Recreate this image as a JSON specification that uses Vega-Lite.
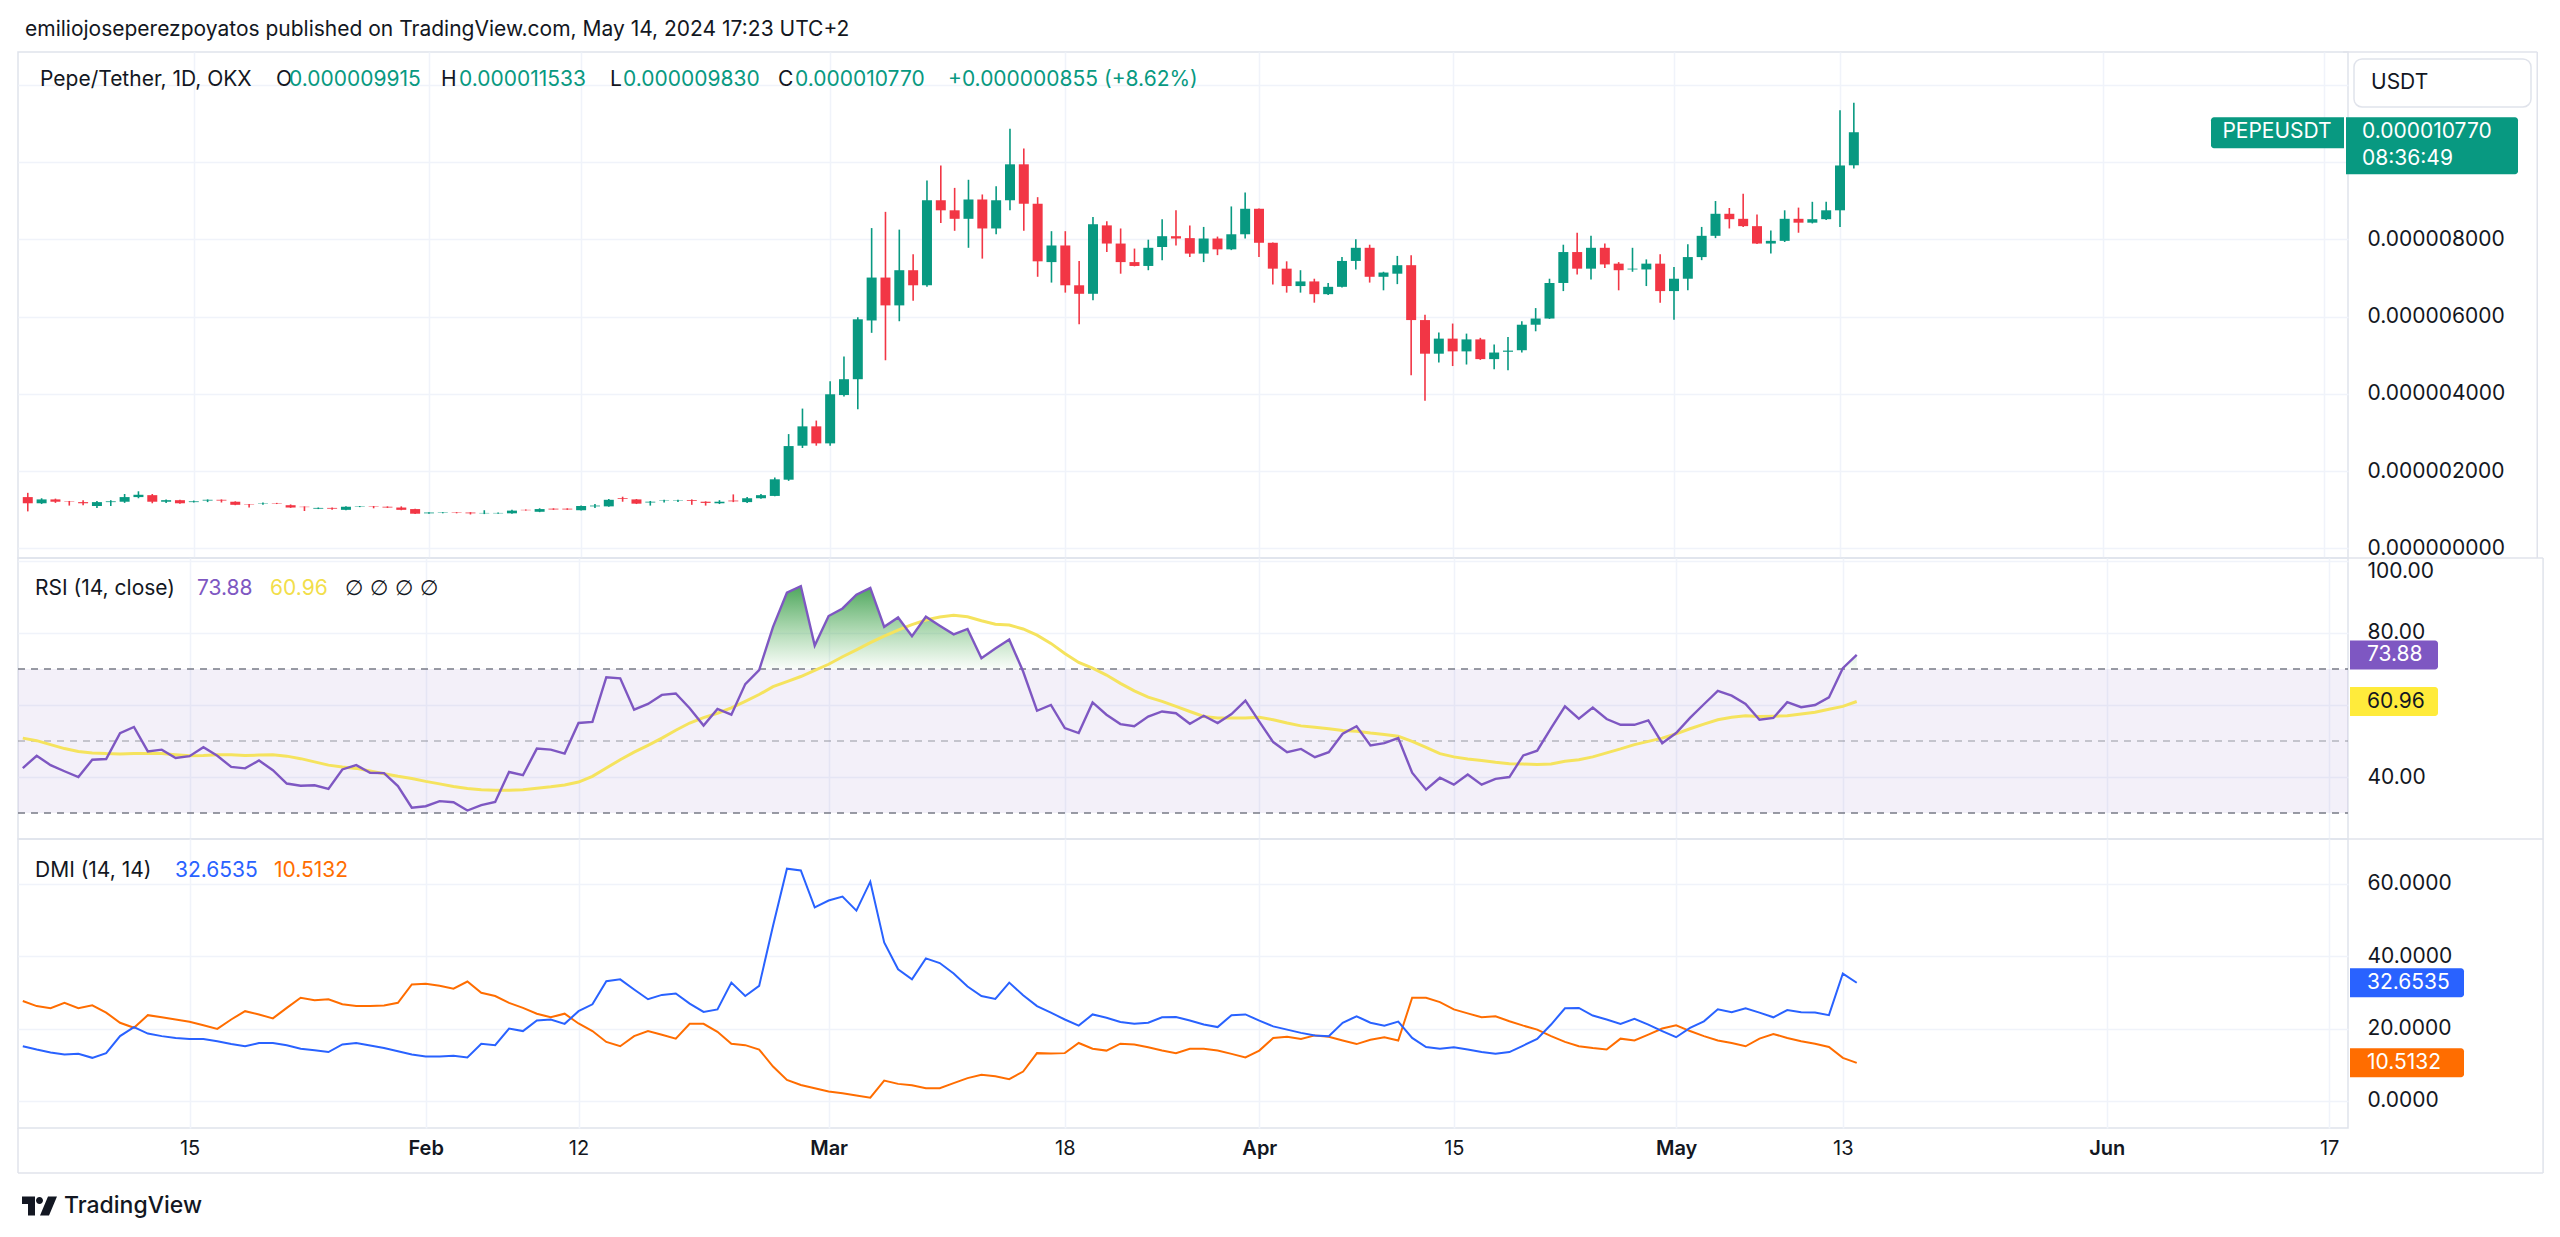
{
  "$schema": "https://vega.github.io/schema/vega-lite/v6.json",
  "padding": {"left": 16, "top": 18, "right": 18, "bottom": 20},
  "background": "#ffffff",
  "datasets": {
    "bars": [
      {"d":"2024-01-03","o":1.33e-6,"h":1.44e-6,"l":0.96e-6,"c":1.17e-6,"rsi":42.5,"ma":50.8,"pdi":15.1,"mdi":27.6},
      {"d":"2024-01-04","o":1.17e-6,"h":1.30e-6,"l":1.15e-6,"c":1.27e-6,"rsi":45.9,"ma":50.1,"pdi":14.2,"mdi":26.2},
      {"d":"2024-01-05","o":1.27e-6,"h":1.29e-6,"l":1.18e-6,"c":1.21e-6,"rsi":43.3,"ma":49.0,"pdi":13.4,"mdi":25.6},
      {"d":"2024-01-06","o":1.22e-6,"h":1.23e-6,"l":1.11e-6,"c":1.21e-6,"rsi":41.6,"ma":47.9,"pdi":12.8,"mdi":27.1},
      {"d":"2024-01-07","o":1.20e-6,"h":1.25e-6,"l":1.12e-6,"c":1.17e-6,"rsi":40.0,"ma":47.1,"pdi":13.0,"mdi":25.6},
      {"d":"2024-01-08","o":1.10e-6,"h":1.23e-6,"l":1.05e-6,"c":1.20e-6,"rsi":44.8,"ma":46.7,"pdi":11.9,"mdi":26.4},
      {"d":"2024-01-09","o":1.20e-6,"h":1.25e-6,"l":1.10e-6,"c":1.22e-6,"rsi":45.0,"ma":46.5,"pdi":13.2,"mdi":24.4},
      {"d":"2024-01-10","o":1.21e-6,"h":1.41e-6,"l":1.18e-6,"c":1.33e-6,"rsi":52.2,"ma":46.4,"pdi":17.9,"mdi":21.6},
      {"d":"2024-01-11","o":1.33e-6,"h":1.48e-6,"l":1.30e-6,"c":1.39e-6,"rsi":53.9,"ma":46.5,"pdi":20.4,"mdi":20.2},
      {"d":"2024-01-12","o":1.38e-6,"h":1.41e-6,"l":1.17e-6,"c":1.21e-6,"rsi":47.1,"ma":46.5,"pdi":18.6,"mdi":23.7},
      {"d":"2024-01-13","o":1.21e-6,"h":1.27e-6,"l":1.18e-6,"c":1.25e-6,"rsi":47.6,"ma":46.5,"pdi":17.9,"mdi":23.1},
      {"d":"2024-01-14","o":1.25e-6,"h":1.26e-6,"l":1.16e-6,"c":1.17e-6,"rsi":45.3,"ma":46.2,"pdi":17.4,"mdi":22.5},
      {"d":"2024-01-15","o":1.20e-6,"h":1.24e-6,"l":1.19e-6,"c":1.22e-6,"rsi":45.8,"ma":45.9,"pdi":17.1,"mdi":21.9},
      {"d":"2024-01-16","o":1.24e-6,"h":1.27e-6,"l":1.20e-6,"c":1.26e-6,"rsi":48.3,"ma":46.0,"pdi":17.1,"mdi":20.9},
      {"d":"2024-01-17","o":1.26e-6,"h":1.27e-6,"l":1.19e-6,"c":1.24e-6,"rsi":45.9,"ma":46.2,"pdi":16.5,"mdi":19.9},
      {"d":"2024-01-18","o":1.21e-6,"h":1.22e-6,"l":1.12e-6,"c":1.13e-6,"rsi":42.8,"ma":46.2,"pdi":15.7,"mdi":22.5},
      {"d":"2024-01-19","o":1.14e-6,"h":1.15e-6,"l":1.06e-6,"c":1.13e-6,"rsi":42.4,"ma":46.0,"pdi":15.1,"mdi":24.8},
      {"d":"2024-01-20","o":1.16e-6,"h":1.19e-6,"l":1.13e-6,"c":1.17e-6,"rsi":44.6,"ma":46.1,"pdi":16.0,"mdi":23.9},
      {"d":"2024-01-21","o":1.17e-6,"h":1.18e-6,"l":1.15e-6,"c":1.16e-6,"rsi":41.9,"ma":46.2,"pdi":16.0,"mdi":22.8},
      {"d":"2024-01-22","o":1.12e-6,"h":1.14e-6,"l":1.05e-6,"c":1.06e-6,"rsi":38.2,"ma":45.8,"pdi":15.4,"mdi":25.7},
      {"d":"2024-01-23","o":1.08e-6,"h":1.09e-6,"l":0.97e-6,"c":1.07e-6,"rsi":37.6,"ma":45.1,"pdi":14.4,"mdi":28.5},
      {"d":"2024-01-24","o":1.03e-6,"h":1.06e-6,"l":1.02e-6,"c":1.05e-6,"rsi":37.7,"ma":44.2,"pdi":14.0,"mdi":27.8},
      {"d":"2024-01-25","o":1.05e-6,"h":1.06e-6,"l":1.00e-6,"c":1.03e-6,"rsi":36.7,"ma":43.3,"pdi":13.5,"mdi":28.1},
      {"d":"2024-01-26","o":1.00e-6,"h":1.09e-6,"l":0.99e-6,"c":1.08e-6,"rsi":42.1,"ma":42.8,"pdi":15.6,"mdi":26.7},
      {"d":"2024-01-27","o":1.08e-6,"h":1.10e-6,"l":1.07e-6,"c":1.09e-6,"rsi":43.3,"ma":42.4,"pdi":16.0,"mdi":26.2},
      {"d":"2024-01-28","o":1.09e-6,"h":1.10e-6,"l":1.04e-6,"c":1.08e-6,"rsi":41.2,"ma":41.7,"pdi":15.3,"mdi":26.2},
      {"d":"2024-01-29","o":1.08e-6,"h":1.09e-6,"l":1.05e-6,"c":1.06e-6,"rsi":41.1,"ma":40.9,"pdi":14.6,"mdi":26.4},
      {"d":"2024-01-30","o":1.06e-6,"h":1.09e-6,"l":0.99e-6,"c":1.00e-6,"rsi":37.5,"ma":40.2,"pdi":13.7,"mdi":27.1},
      {"d":"2024-01-31","o":1.02e-6,"h":1.03e-6,"l":0.89e-6,"c":0.90e-6,"rsi":31.5,"ma":39.6,"pdi":12.8,"mdi":32.2},
      {"d":"2024-02-01","o":0.91e-6,"h":0.94e-6,"l":0.90e-6,"c":0.93e-6,"rsi":31.9,"ma":38.8,"pdi":12.3,"mdi":32.4},
      {"d":"2024-02-02","o":0.92e-6,"h":0.94e-6,"l":0.91e-6,"c":0.93e-6,"rsi":33.3,"ma":38.1,"pdi":12.3,"mdi":31.8},
      {"d":"2024-02-03","o":0.93e-6,"h":0.94e-6,"l":0.91e-6,"c":0.92e-6,"rsi":33.0,"ma":37.4,"pdi":12.5,"mdi":31.0},
      {"d":"2024-02-04","o":0.93e-6,"h":0.94e-6,"l":0.88e-6,"c":0.91e-6,"rsi":30.7,"ma":36.8,"pdi":12.0,"mdi":33.0},
      {"d":"2024-02-05","o":0.91e-6,"h":0.99e-6,"l":0.89e-6,"c":0.92e-6,"rsi":32.2,"ma":36.5,"pdi":15.8,"mdi":29.9},
      {"d":"2024-02-06","o":0.91e-6,"h":0.93e-6,"l":0.90e-6,"c":0.92e-6,"rsi":33.1,"ma":36.3,"pdi":15.4,"mdi":29.0},
      {"d":"2024-02-07","o":0.91e-6,"h":1.00e-6,"l":0.90e-6,"c":0.98e-6,"rsi":41.4,"ma":36.3,"pdi":20.0,"mdi":27.1},
      {"d":"2024-02-08","o":1.00e-6,"h":1.01e-6,"l":0.98e-6,"c":0.99e-6,"rsi":40.5,"ma":36.5,"pdi":19.3,"mdi":25.7},
      {"d":"2024-02-09","o":0.95e-6,"h":1.04e-6,"l":0.94e-6,"c":1.02e-6,"rsi":47.9,"ma":36.9,"pdi":22.2,"mdi":24.1},
      {"d":"2024-02-10","o":1.03e-6,"h":1.04e-6,"l":1.00e-6,"c":1.01e-6,"rsi":47.6,"ma":37.3,"pdi":22.5,"mdi":23.1},
      {"d":"2024-02-11","o":1.03e-6,"h":1.04e-6,"l":1.00e-6,"c":1.01e-6,"rsi":46.5,"ma":37.8,"pdi":21.3,"mdi":24.1},
      {"d":"2024-02-12","o":0.99e-6,"h":1.11e-6,"l":0.98e-6,"c":1.10e-6,"rsi":55.0,"ma":38.6,"pdi":24.8,"mdi":21.4},
      {"d":"2024-02-13","o":1.09e-6,"h":1.15e-6,"l":1.05e-6,"c":1.11e-6,"rsi":55.3,"ma":40.2,"pdi":26.7,"mdi":19.3},
      {"d":"2024-02-14","o":1.09e-6,"h":1.28e-6,"l":1.08e-6,"c":1.26e-6,"rsi":67.7,"ma":42.5,"pdi":33.1,"mdi":16.3},
      {"d":"2024-02-15","o":1.30e-6,"h":1.34e-6,"l":1.21e-6,"c":1.28e-6,"rsi":67.4,"ma":44.8,"pdi":33.6,"mdi":15.1},
      {"d":"2024-02-16","o":1.27e-6,"h":1.28e-6,"l":1.15e-6,"c":1.16e-6,"rsi":58.7,"ma":46.9,"pdi":30.8,"mdi":17.9},
      {"d":"2024-02-17","o":1.19e-6,"h":1.23e-6,"l":1.11e-6,"c":1.21e-6,"rsi":60.3,"ma":48.8,"pdi":28.1,"mdi":19.3},
      {"d":"2024-02-18","o":1.24e-6,"h":1.26e-6,"l":1.19e-6,"c":1.25e-6,"rsi":62.8,"ma":50.8,"pdi":29.3,"mdi":18.3},
      {"d":"2024-02-19","o":1.24e-6,"h":1.26e-6,"l":1.20e-6,"c":1.25e-6,"rsi":63.2,"ma":53.0,"pdi":29.7,"mdi":17.2},
      {"d":"2024-02-20","o":1.25e-6,"h":1.27e-6,"l":1.13e-6,"c":1.23e-6,"rsi":59.1,"ma":55.0,"pdi":26.9,"mdi":21.3},
      {"d":"2024-02-21","o":1.21e-6,"h":1.22e-6,"l":1.11e-6,"c":1.18e-6,"rsi":54.3,"ma":56.5,"pdi":24.6,"mdi":21.3},
      {"d":"2024-02-22","o":1.17e-6,"h":1.25e-6,"l":1.15e-6,"c":1.21e-6,"rsi":58.9,"ma":57.7,"pdi":25.3,"mdi":19.1},
      {"d":"2024-02-23","o":1.24e-6,"h":1.40e-6,"l":1.20e-6,"c":1.22e-6,"rsi":57.3,"ma":59.2,"pdi":32.7,"mdi":15.8},
      {"d":"2024-02-24","o":1.20e-6,"h":1.33e-6,"l":1.18e-6,"c":1.30e-6,"rsi":65.8,"ma":61.0,"pdi":29.0,"mdi":15.4},
      {"d":"2024-02-25","o":1.30e-6,"h":1.41e-6,"l":1.29e-6,"c":1.38e-6,"rsi":69.7,"ma":62.9,"pdi":31.8,"mdi":14.2},
      {"d":"2024-02-26","o":1.36e-6,"h":1.84e-6,"l":1.35e-6,"c":1.79e-6,"rsi":81.7,"ma":65.1,"pdi":48.4,"mdi":9.5},
      {"d":"2024-02-27","o":1.78e-6,"h":2.96e-6,"l":1.75e-6,"c":2.65e-6,"rsi":91.2,"ma":66.5,"pdi":64.2,"mdi":5.8},
      {"d":"2024-02-28","o":2.66e-6,"h":3.62e-6,"l":2.60e-6,"c":3.16e-6,"rsi":93.0,"ma":67.9,"pdi":63.7,"mdi":4.4},
      {"d":"2024-02-29","o":3.16e-6,"h":3.31e-6,"l":2.66e-6,"c":2.72e-6,"rsi":76.5,"ma":69.6,"pdi":53.5,"mdi":3.5},
      {"d":"2024-03-01","o":2.72e-6,"h":4.33e-6,"l":2.66e-6,"c":3.99e-6,"rsi":84.7,"ma":71.3,"pdi":55.4,"mdi":2.6},
      {"d":"2024-03-02","o":3.97e-6,"h":4.97e-6,"l":3.93e-6,"c":4.38e-6,"rsi":86.8,"ma":73.4,"pdi":56.5,"mdi":2.1},
      {"d":"2024-03-03","o":4.38e-6,"h":5.98e-6,"l":3.60e-6,"c":5.93e-6,"rsi":90.6,"ma":75.3,"pdi":52.6,"mdi":1.5},
      {"d":"2024-03-04","o":5.90e-6,"h":8.29e-6,"l":5.58e-6,"c":7.01e-6,"rsi":92.5,"ma":77.3,"pdi":60.6,"mdi":0.9},
      {"d":"2024-03-05","o":7.01e-6,"h":8.71e-6,"l":4.87e-6,"c":6.29e-6,"rsi":81.7,"ma":79.1,"pdi":43.8,"mdi":5.6},
      {"d":"2024-03-06","o":6.29e-6,"h":8.25e-6,"l":5.88e-6,"c":7.20e-6,"rsi":84.3,"ma":80.8,"pdi":36.4,"mdi":4.7},
      {"d":"2024-03-07","o":7.20e-6,"h":7.61e-6,"l":6.41e-6,"c":6.81e-6,"rsi":79.1,"ma":82.3,"pdi":33.6,"mdi":4.3},
      {"d":"2024-03-08","o":6.81e-6,"h":9.52e-6,"l":6.77e-6,"c":9.01e-6,"rsi":84.5,"ma":83.6,"pdi":39.4,"mdi":3.5},
      {"d":"2024-03-09","o":9.01e-6,"h":9.91e-6,"l":8.42e-6,"c":8.75e-6,"rsi":82.0,"ma":84.4,"pdi":38.1,"mdi":3.5},
      {"d":"2024-03-10","o":8.75e-6,"h":9.33e-6,"l":8.22e-6,"c":8.53e-6,"rsi":79.6,"ma":84.9,"pdi":35.2,"mdi":4.9},
      {"d":"2024-03-11","o":8.53e-6,"h":9.54e-6,"l":7.78e-6,"c":9.03e-6,"rsi":81.1,"ma":84.5,"pdi":31.6,"mdi":6.3},
      {"d":"2024-03-12","o":9.03e-6,"h":9.16e-6,"l":7.50e-6,"c":8.28e-6,"rsi":73.0,"ma":83.4,"pdi":29.0,"mdi":7.2},
      {"d":"2024-03-13","o":8.28e-6,"h":9.37e-6,"l":8.13e-6,"c":9.01e-6,"rsi":75.7,"ma":82.4,"pdi":28.2,"mdi":6.8},
      {"d":"2024-03-14","o":9.01e-6,"h":10.86e-6,"l":8.75e-6,"c":9.94e-6,"rsi":78.2,"ma":82.2,"pdi":32.7,"mdi":6.0},
      {"d":"2024-03-15","o":9.94e-6,"h":10.35e-6,"l":8.22e-6,"c":8.92e-6,"rsi":69.3,"ma":81.1,"pdi":29.2,"mdi":8.1},
      {"d":"2024-03-16","o":8.92e-6,"h":9.09e-6,"l":7.03e-6,"c":7.43e-6,"rsi":58.4,"ma":79.4,"pdi":26.2,"mdi":13.2},
      {"d":"2024-03-17","o":7.41e-6,"h":8.21e-6,"l":6.88e-6,"c":7.84e-6,"rsi":60.0,"ma":77.1,"pdi":24.4,"mdi":13.1},
      {"d":"2024-03-18","o":7.84e-6,"h":8.21e-6,"l":6.62e-6,"c":6.81e-6,"rsi":53.6,"ma":74.3,"pdi":22.5,"mdi":13.2},
      {"d":"2024-03-19","o":6.81e-6,"h":7.44e-6,"l":5.80e-6,"c":6.59e-6,"rsi":52.2,"ma":71.8,"pdi":20.8,"mdi":16.0},
      {"d":"2024-03-20","o":6.59e-6,"h":8.58e-6,"l":6.42e-6,"c":8.39e-6,"rsi":60.7,"ma":70.2,"pdi":23.9,"mdi":14.4},
      {"d":"2024-03-21","o":8.36e-6,"h":8.47e-6,"l":7.67e-6,"c":7.89e-6,"rsi":57.3,"ma":68.3,"pdi":23.0,"mdi":13.9},
      {"d":"2024-03-22","o":7.89e-6,"h":8.28e-6,"l":7.11e-6,"c":7.41e-6,"rsi":54.7,"ma":66.0,"pdi":21.8,"mdi":15.8},
      {"d":"2024-03-23","o":7.41e-6,"h":7.76e-6,"l":7.30e-6,"c":7.31e-6,"rsi":54.1,"ma":63.9,"pdi":21.3,"mdi":15.6},
      {"d":"2024-03-24","o":7.31e-6,"h":7.99e-6,"l":7.20e-6,"c":7.78e-6,"rsi":56.8,"ma":62.2,"pdi":21.6,"mdi":14.8},
      {"d":"2024-03-25","o":7.80e-6,"h":8.52e-6,"l":7.46e-6,"c":8.08e-6,"rsi":58.2,"ma":61.0,"pdi":23.1,"mdi":13.9},
      {"d":"2024-03-26","o":8.08e-6,"h":8.75e-6,"l":7.84e-6,"c":8.02e-6,"rsi":57.7,"ma":59.6,"pdi":23.2,"mdi":13.2},
      {"d":"2024-03-27","o":8.03e-6,"h":8.36e-6,"l":7.54e-6,"c":7.63e-6,"rsi":54.8,"ma":58.2,"pdi":22.2,"mdi":14.4},
      {"d":"2024-03-28","o":7.63e-6,"h":8.32e-6,"l":7.41e-6,"c":8.02e-6,"rsi":57.0,"ma":56.8,"pdi":21.1,"mdi":14.4},
      {"d":"2024-03-29","o":8.02e-6,"h":8.07e-6,"l":7.59e-6,"c":7.74e-6,"rsi":55.0,"ma":56.4,"pdi":20.4,"mdi":13.9},
      {"d":"2024-03-30","o":7.74e-6,"h":8.85e-6,"l":7.72e-6,"c":8.13e-6,"rsi":57.5,"ma":56.4,"pdi":23.7,"mdi":13.0},
      {"d":"2024-03-31","o":8.13e-6,"h":9.21e-6,"l":8.02e-6,"c":8.79e-6,"rsi":61.2,"ma":56.4,"pdi":23.9,"mdi":12.0},
      {"d":"2024-04-01","o":8.79e-6,"h":8.80e-6,"l":7.54e-6,"c":7.91e-6,"rsi":55.4,"ma":56.6,"pdi":22.2,"mdi":13.9},
      {"d":"2024-04-02","o":7.91e-6,"h":7.92e-6,"l":6.83e-6,"c":7.24e-6,"rsi":49.7,"ma":55.9,"pdi":20.6,"mdi":17.4},
      {"d":"2024-04-03","o":7.24e-6,"h":7.43e-6,"l":6.62e-6,"c":6.79e-6,"rsi":46.9,"ma":55.0,"pdi":19.7,"mdi":17.7},
      {"d":"2024-04-04","o":6.79e-6,"h":7.20e-6,"l":6.62e-6,"c":6.91e-6,"rsi":47.8,"ma":54.2,"pdi":18.8,"mdi":17.1},
      {"d":"2024-04-05","o":6.91e-6,"h":6.98e-6,"l":6.36e-6,"c":6.58e-6,"rsi":45.5,"ma":53.8,"pdi":18.1,"mdi":18.1},
      {"d":"2024-04-06","o":6.58e-6,"h":6.87e-6,"l":6.56e-6,"c":6.77e-6,"rsi":46.9,"ma":53.4,"pdi":17.9,"mdi":17.7},
      {"d":"2024-04-07","o":6.77e-6,"h":7.54e-6,"l":6.75e-6,"c":7.44e-6,"rsi":52.0,"ma":52.9,"pdi":21.6,"mdi":16.7},
      {"d":"2024-04-08","o":7.44e-6,"h":8.00e-6,"l":7.22e-6,"c":7.78e-6,"rsi":54.1,"ma":52.7,"pdi":23.4,"mdi":15.7},
      {"d":"2024-04-09","o":7.78e-6,"h":7.86e-6,"l":6.88e-6,"c":7.03e-6,"rsi":48.8,"ma":52.2,"pdi":21.6,"mdi":16.9},
      {"d":"2024-04-10","o":7.03e-6,"h":7.16e-6,"l":6.68e-6,"c":7.14e-6,"rsi":49.4,"ma":51.8,"pdi":20.8,"mdi":17.6},
      {"d":"2024-04-11","o":7.11e-6,"h":7.57e-6,"l":6.84e-6,"c":7.33e-6,"rsi":50.8,"ma":51.3,"pdi":21.9,"mdi":16.7},
      {"d":"2024-04-12","o":7.33e-6,"h":7.59e-6,"l":4.48e-6,"c":5.91e-6,"rsi":41.2,"ma":49.9,"pdi":17.4,"mdi":28.5},
      {"d":"2024-04-13","o":5.91e-6,"h":6.05e-6,"l":3.82e-6,"c":5.04e-6,"rsi":36.5,"ma":48.2,"pdi":14.9,"mdi":28.5},
      {"d":"2024-04-14","o":5.04e-6,"h":5.59e-6,"l":4.81e-6,"c":5.43e-6,"rsi":39.8,"ma":46.5,"pdi":14.4,"mdi":27.3},
      {"d":"2024-04-15","o":5.43e-6,"h":5.82e-6,"l":4.72e-6,"c":5.10e-6,"rsi":37.9,"ma":45.6,"pdi":14.8,"mdi":25.3},
      {"d":"2024-04-16","o":5.10e-6,"h":5.56e-6,"l":4.76e-6,"c":5.41e-6,"rsi":40.7,"ma":45.0,"pdi":14.2,"mdi":24.2},
      {"d":"2024-04-17","o":5.41e-6,"h":5.45e-6,"l":4.88e-6,"c":4.90e-6,"rsi":37.9,"ma":44.6,"pdi":13.5,"mdi":23.1},
      {"d":"2024-04-18","o":4.90e-6,"h":5.28e-6,"l":4.64e-6,"c":5.07e-6,"rsi":39.5,"ma":44.1,"pdi":13.0,"mdi":23.4},
      {"d":"2024-04-19","o":5.09e-6,"h":5.47e-6,"l":4.61e-6,"c":5.12e-6,"rsi":40.0,"ma":43.7,"pdi":13.5,"mdi":22.0},
      {"d":"2024-04-20","o":5.13e-6,"h":5.88e-6,"l":5.07e-6,"c":5.79e-6,"rsi":46.0,"ma":43.6,"pdi":15.3,"mdi":20.8},
      {"d":"2024-04-21","o":5.79e-6,"h":6.22e-6,"l":5.62e-6,"c":5.95e-6,"rsi":47.3,"ma":43.5,"pdi":17.1,"mdi":19.7},
      {"d":"2024-04-22","o":5.95e-6,"h":6.98e-6,"l":5.94e-6,"c":6.87e-6,"rsi":53.6,"ma":43.6,"pdi":21.1,"mdi":17.9},
      {"d":"2024-04-23","o":6.87e-6,"h":7.86e-6,"l":6.66e-6,"c":7.67e-6,"rsi":59.6,"ma":44.4,"pdi":25.6,"mdi":16.3},
      {"d":"2024-04-24","o":7.67e-6,"h":8.17e-6,"l":7.09e-6,"c":7.24e-6,"rsi":56.2,"ma":44.8,"pdi":25.7,"mdi":15.1},
      {"d":"2024-04-25","o":7.24e-6,"h":8.09e-6,"l":6.96e-6,"c":7.78e-6,"rsi":59.3,"ma":45.6,"pdi":23.6,"mdi":14.6},
      {"d":"2024-04-26","o":7.78e-6,"h":7.89e-6,"l":7.26e-6,"c":7.35e-6,"rsi":56.1,"ma":46.7,"pdi":22.5,"mdi":14.2},
      {"d":"2024-04-27","o":7.37e-6,"h":7.41e-6,"l":6.68e-6,"c":7.20e-6,"rsi":54.5,"ma":47.8,"pdi":21.3,"mdi":17.2},
      {"d":"2024-04-28","o":7.22e-6,"h":7.78e-6,"l":7.16e-6,"c":7.24e-6,"rsi":54.5,"ma":49.0,"pdi":22.7,"mdi":16.7},
      {"d":"2024-04-29","o":7.22e-6,"h":7.48e-6,"l":6.79e-6,"c":7.37e-6,"rsi":55.7,"ma":49.9,"pdi":21.1,"mdi":18.3},
      {"d":"2024-04-30","o":7.37e-6,"h":7.61e-6,"l":6.36e-6,"c":6.66e-6,"rsi":49.4,"ma":50.8,"pdi":19.3,"mdi":20.0},
      {"d":"2024-05-01","o":6.66e-6,"h":7.28e-6,"l":5.92e-6,"c":6.98e-6,"rsi":52.2,"ma":52.0,"pdi":17.6,"mdi":20.9},
      {"d":"2024-05-02","o":6.98e-6,"h":7.87e-6,"l":6.68e-6,"c":7.54e-6,"rsi":56.4,"ma":53.4,"pdi":20.2,"mdi":19.3},
      {"d":"2024-05-03","o":7.54e-6,"h":8.32e-6,"l":7.46e-6,"c":8.09e-6,"rsi":60.2,"ma":54.7,"pdi":22.0,"mdi":17.9},
      {"d":"2024-05-04","o":8.09e-6,"h":8.99e-6,"l":8.03e-6,"c":8.66e-6,"rsi":63.9,"ma":55.9,"pdi":25.3,"mdi":16.7},
      {"d":"2024-05-05","o":8.66e-6,"h":8.81e-6,"l":8.28e-6,"c":8.52e-6,"rsi":62.6,"ma":56.6,"pdi":24.5,"mdi":16.0},
      {"d":"2024-05-06","o":8.53e-6,"h":9.18e-6,"l":8.32e-6,"c":8.34e-6,"rsi":60.3,"ma":57.0,"pdi":25.6,"mdi":15.1},
      {"d":"2024-05-07","o":8.34e-6,"h":8.64e-6,"l":7.88e-6,"c":7.89e-6,"rsi":55.9,"ma":56.8,"pdi":24.4,"mdi":17.2},
      {"d":"2024-05-08","o":7.89e-6,"h":8.23e-6,"l":7.63e-6,"c":7.96e-6,"rsi":56.4,"ma":56.9,"pdi":23.1,"mdi":18.5},
      {"d":"2024-05-09","o":7.96e-6,"h":8.75e-6,"l":7.93e-6,"c":8.53e-6,"rsi":60.8,"ma":57.0,"pdi":25.1,"mdi":17.4},
      {"d":"2024-05-10","o":8.53e-6,"h":8.82e-6,"l":8.17e-6,"c":8.43e-6,"rsi":59.4,"ma":57.5,"pdi":24.5,"mdi":16.5},
      {"d":"2024-05-11","o":8.43e-6,"h":8.97e-6,"l":8.41e-6,"c":8.52e-6,"rsi":60.0,"ma":58.0,"pdi":24.4,"mdi":15.8},
      {"d":"2024-05-12","o":8.52e-6,"h":8.97e-6,"l":8.50e-6,"c":8.75e-6,"rsi":62.1,"ma":58.8,"pdi":23.7,"mdi":14.9},
      {"d":"2024-05-13","o":8.75e-6,"h":11.34e-6,"l":8.32e-6,"c":9.91e-6,"rsi":70.2,"ma":59.6,"pdi":35.2,"mdi":11.9},
      {"d":"2024-05-14","o":9.915e-6,"h":11.533e-6,"l":9.83e-6,"c":10.77e-6,"rsi":73.88,"ma":60.96,"pdi":32.6535,"mdi":10.5132}
    ]
  },
  "vconcat": [
    {
      "width": 2330,
      "height": 506,
      "data": {"name": "bars"},
      "layer": [
        {
          "mark": {"type": "rule", "strokeWidth": 1.6},
          "encoding": {
            "x": {
              "field": "d", "type": "temporal", "title": null,
              "scale": {"type": "utc", "nice": false, "domain": [
                {"year": 2024, "month": 1, "date": 2, "hours": 15, "minutes": 43, "utc": true},
                {"year": 2024, "month": 6, "date": 18, "hours": 8, "minutes": 38, "utc": true}]},
              "axis": {"title": null, "labels": false, "grid": true, "values": [
                {"year": 2024, "month": 1, "date": 15, "utc": true}, {"year": 2024, "month": 2, "date": 1, "utc": true},
                {"year": 2024, "month": 2, "date": 12, "utc": true}, {"year": 2024, "month": 3, "date": 1, "utc": true},
                {"year": 2024, "month": 3, "date": 18, "utc": true}, {"year": 2024, "month": 4, "date": 1, "utc": true},
                {"year": 2024, "month": 4, "date": 15, "utc": true}, {"year": 2024, "month": 5, "date": 1, "utc": true},
                {"year": 2024, "month": 5, "date": 13, "utc": true}, {"year": 2024, "month": 6, "date": 1, "utc": true},
                {"year": 2024, "month": 6, "date": 17, "utc": true}]}
            },
            "y": {"field": "l", "type": "quantitative", "title": null,
              "scale": {"domain": [-0.000000246, 0.000012846], "nice": false, "zero": false},
              "axis": {"orient": "right", "title": null, "grid": true, "labelPadding": 19,
                "labelExpr": "datum.value > 0.0000095 ? '' : format(datum.value, '.9f')",
                "values": [0, 0.000002, 0.000004, 0.000006, 0.000008, 0.00001, 0.000012]}},
            "y2": {"field": "h"},
            "color": {"condition": {"test": "datum.c >= datum.o", "value": "#089981"}, "value": "#F23645"}
          }
        },
        {
          "mark": {"type": "bar", "width": 10},
          "encoding": {
            "x": {"field": "d", "type": "temporal"},
            "y": {"field": "o", "type": "quantitative", "title": null},
            "y2": {"field": "c"},
            "color": {"condition": {"test": "datum.c >= datum.o", "value": "#089981"}, "value": "#F23645"}
          }
        },
        {
          "data": {"values": [{}]},
          "mark": {"type": "text", "align": "left", "baseline": "middle", "dx": 2, "fontSize": 21, "color": "#131722"},
          "encoding": {"x": {"datum": {"year": 2024, "month": 1, "date": 2, "hours": 15, "minutes": 43, "utc": true}, "type": "temporal"}, "y": {"datum": 0.000013415, "type": "quantitative"}, "text": {"value": "emiliojoseperezpoyatos published on TradingView.com, May 14, 2024 17:23 UTC+2"}}
        },
        {
          "data": {"values": [{}]},
          "mark": {"type": "text", "align": "left", "baseline": "middle", "dx": 17, "fontSize": 21, "color": "#131722"},
          "encoding": {"x": {"datum": {"year": 2024, "month": 1, "date": 2, "hours": 15, "minutes": 43, "utc": true}, "type": "temporal"}, "y": {"datum": 0.00001212, "type": "quantitative"}, "text": {"value": "Pepe/Tether, 1D, OKX"}}
        },
        {
          "data": {"values": [{}]},
          "mark": {"type": "text", "align": "left", "baseline": "middle", "dx": 253, "fontSize": 21, "color": "#131722"},
          "encoding": {"x": {"datum": {"year": 2024, "month": 1, "date": 2, "hours": 15, "minutes": 43, "utc": true}, "type": "temporal"}, "y": {"datum": 0.00001212, "type": "quantitative"}, "text": {"value": "O"}}
        },
        {
          "data": {"values": [{}]},
          "mark": {"type": "text", "align": "left", "baseline": "middle", "dx": 266, "fontSize": 21, "color": "#089981"},
          "encoding": {"x": {"datum": {"year": 2024, "month": 1, "date": 2, "hours": 15, "minutes": 43, "utc": true}, "type": "temporal"}, "y": {"datum": 0.00001212, "type": "quantitative"}, "text": {"value": "0.000009915"}}
        },
        {
          "data": {"values": [{}]},
          "mark": {"type": "text", "align": "left", "baseline": "middle", "dx": 418, "fontSize": 21, "color": "#131722"},
          "encoding": {"x": {"datum": {"year": 2024, "month": 1, "date": 2, "hours": 15, "minutes": 43, "utc": true}, "type": "temporal"}, "y": {"datum": 0.00001212, "type": "quantitative"}, "text": {"value": "H"}}
        },
        {
          "data": {"values": [{}]},
          "mark": {"type": "text", "align": "left", "baseline": "middle", "dx": 436, "fontSize": 21, "color": "#089981"},
          "encoding": {"x": {"datum": {"year": 2024, "month": 1, "date": 2, "hours": 15, "minutes": 43, "utc": true}, "type": "temporal"}, "y": {"datum": 0.00001212, "type": "quantitative"}, "text": {"value": "0.000011533"}}
        },
        {
          "data": {"values": [{}]},
          "mark": {"type": "text", "align": "left", "baseline": "middle", "dx": 587, "fontSize": 21, "color": "#131722"},
          "encoding": {"x": {"datum": {"year": 2024, "month": 1, "date": 2, "hours": 15, "minutes": 43, "utc": true}, "type": "temporal"}, "y": {"datum": 0.00001212, "type": "quantitative"}, "text": {"value": "L"}}
        },
        {
          "data": {"values": [{}]},
          "mark": {"type": "text", "align": "left", "baseline": "middle", "dx": 600, "fontSize": 21, "color": "#089981"},
          "encoding": {"x": {"datum": {"year": 2024, "month": 1, "date": 2, "hours": 15, "minutes": 43, "utc": true}, "type": "temporal"}, "y": {"datum": 0.00001212, "type": "quantitative"}, "text": {"value": "0.000009830"}}
        },
        {
          "data": {"values": [{}]},
          "mark": {"type": "text", "align": "left", "baseline": "middle", "dx": 755, "fontSize": 21, "color": "#131722"},
          "encoding": {"x": {"datum": {"year": 2024, "month": 1, "date": 2, "hours": 15, "minutes": 43, "utc": true}, "type": "temporal"}, "y": {"datum": 0.00001212, "type": "quantitative"}, "text": {"value": "C"}}
        },
        {
          "data": {"values": [{}]},
          "mark": {"type": "text", "align": "left", "baseline": "middle", "dx": 772, "fontSize": 21, "color": "#089981"},
          "encoding": {"x": {"datum": {"year": 2024, "month": 1, "date": 2, "hours": 15, "minutes": 43, "utc": true}, "type": "temporal"}, "y": {"datum": 0.00001212, "type": "quantitative"}, "text": {"value": "0.000010770"}}
        },
        {
          "data": {"values": [{}]},
          "mark": {"type": "text", "align": "left", "baseline": "middle", "dx": 925, "fontSize": 21, "color": "#089981"},
          "encoding": {"x": {"datum": {"year": 2024, "month": 1, "date": 2, "hours": 15, "minutes": 43, "utc": true}, "type": "temporal"}, "y": {"datum": 0.00001212, "type": "quantitative"}, "text": {"value": "+0.000000855 (+8.62%)"}}
        },
        {
          "data": {"values": [{}]},
          "mark": {"type": "point", "shape": "M19,-24H180A8,8,0,0,1,188,-16V16A8,8,0,0,1,180,24H19A8,8,0,0,1,11,16V-16A8,8,0,0,1,19,-24Z", "size": 4, "filled": true, "fill": "#ffffff", "stroke": "#E0E3EB", "strokeWidth": 1.5, "opacity": 1},
          "encoding": {"x": {"datum": {"year": 2024, "month": 6, "date": 18, "hours": 8, "minutes": 38, "utc": true}, "type": "temporal"}, "y": {"datum": 0.000012044, "type": "quantitative"}}
        },
        {
          "data": {"values": [{}]},
          "mark": {"type": "text", "align": "left", "baseline": "middle", "dx": 28, "fontSize": 21, "color": "#131722"},
          "encoding": {"x": {"datum": {"year": 2024, "month": 6, "date": 18, "hours": 8, "minutes": 38, "utc": true}, "type": "temporal"}, "y": {"datum": 0.000012044, "type": "quantitative"}, "text": {"value": "USDT"}}
        },
        {
          "data": {"values": [{}]},
          "mark": {"type": "point", "shape": "M-129,-15H1V16H-129A3,3,0,0,1,-132,13V-12A3,3,0,0,1,-129,-15Z", "size": 4, "filled": true, "fill": "#089981", "strokeWidth": 0, "opacity": 1},
          "encoding": {"x": {"datum": {"year": 2024, "month": 6, "date": 18, "hours": 8, "minutes": 38, "utc": true}, "type": "temporal"}, "y": {"datum": 0.00001077, "type": "quantitative"}}
        },
        {
          "data": {"values": [{}]},
          "mark": {"type": "text", "align": "center", "baseline": "middle", "dx": -66, "fontSize": 21, "color": "#ffffff"},
          "encoding": {"x": {"datum": {"year": 2024, "month": 6, "date": 18, "hours": 8, "minutes": 38, "utc": true}, "type": "temporal"}, "y": {"datum": 0.00001077, "type": "quantitative"}, "text": {"value": "PEPEUSDT"}}
        },
        {
          "data": {"values": [{}]},
          "mark": {"type": "point", "shape": "M3,-15H172A3,3,0,0,1,175,-12V39A3,3,0,0,1,172,42H3Z", "size": 4, "filled": true, "fill": "#089981", "strokeWidth": 0, "opacity": 1},
          "encoding": {"x": {"datum": {"year": 2024, "month": 6, "date": 18, "hours": 8, "minutes": 38, "utc": true}, "type": "temporal"}, "y": {"datum": 0.00001077, "type": "quantitative"}}
        },
        {
          "data": {"values": [{}]},
          "mark": {"type": "text", "align": "left", "baseline": "middle", "dx": 19, "fontSize": 21, "color": "#ffffff"},
          "encoding": {"x": {"datum": {"year": 2024, "month": 6, "date": 18, "hours": 8, "minutes": 38, "utc": true}, "type": "temporal"}, "y": {"datum": 0.00001077, "type": "quantitative"}, "text": {"value": "0.000010770"}}
        },
        {
          "data": {"values": [{}]},
          "mark": {"type": "text", "align": "left", "baseline": "middle", "dx": 19, "dy": 27, "fontSize": 21, "color": "#ffffff"},
          "encoding": {"x": {"datum": {"year": 2024, "month": 6, "date": 18, "hours": 8, "minutes": 38, "utc": true}, "type": "temporal"}, "y": {"datum": 0.00001077, "type": "quantitative"}, "text": {"value": "08:36:49"}}
        },
        {
          "data": {"values": [{}]},
          "mark": {"type": "rule", "color": "#E0E3EB", "strokeWidth": 1.5},
          "encoding": {"x": {"datum": {"year": 2024, "month": 6, "date": 18, "hours": 8, "minutes": 38, "utc": true}, "type": "temporal"}, "x2": {"datum": {"year": 2024, "month": 7, "date": 2, "hours": 9, "minutes": 36, "utc": true}}, "y": {"datum": 0.000012846, "type": "quantitative"}}
        },
        {
          "data": {"values": [{}]},
          "mark": {"type": "rule", "color": "#E0E3EB", "strokeWidth": 1.5},
          "encoding": {"x": {"datum": {"year": 2024, "month": 7, "date": 2, "hours": 9, "minutes": 36, "utc": true}, "type": "temporal"}, "y": {"datum": -0.000000246, "type": "quantitative"}, "y2": {"datum": 0.000012846}}
        }
      ]
    },
    {
      "width": 2330,
      "height": 281,
      "data": {"name": "bars"},
      "layer": [
        {
          "data": {"values": [{}]},
          "mark": {"type": "rect", "color": "#7E57C2", "opacity": 0.09},
          "encoding": {"x": {"datum": {"year": 2024, "month": 1, "date": 2, "hours": 15, "minutes": 43, "utc": true}, "type": "temporal"}, "x2": {"datum": {"year": 2024, "month": 6, "date": 18, "hours": 8, "minutes": 38, "utc": true}}, "y": {"datum": 70, "type": "quantitative"}, "y2": {"datum": 30}}
        },
        {
          "mark": {"type": "area", "color": {"gradient": "linear", "x1": 0, "y1": 0, "x2": 0, "y2": 1, "stops": [
            {"offset": 0, "color": "rgba(46,150,64,0.85)"},
            {"offset": 0.369, "color": "rgba(76,175,80,0.03)"},
            {"offset": 0.371, "color": "rgba(76,175,80,0)"},
            {"offset": 1, "color": "rgba(76,175,80,0)"}]}},
          "encoding": {"x": {"field": "d", "type": "temporal"}, "y": {"field": "rsi", "type": "quantitative", "title": null}, "y2": {"datum": 70}}
        },
        {
          "data": {"values": [{}]},
          "mark": {"type": "rule", "color": "#787B86", "strokeWidth": 1.6, "strokeDash": [7, 6]},
          "encoding": {"x": {"datum": {"year": 2024, "month": 1, "date": 2, "hours": 15, "minutes": 43, "utc": true}, "type": "temporal"}, "x2": {"datum": {"year": 2024, "month": 6, "date": 18, "hours": 8, "minutes": 38, "utc": true}}, "y": {"datum": 70, "type": "quantitative"}}
        },
        {
          "data": {"values": [{}]},
          "mark": {"type": "rule", "color": "#787B86", "strokeWidth": 1.6, "strokeDash": [7, 6], "opacity": 0.5},
          "encoding": {"x": {"datum": {"year": 2024, "month": 1, "date": 2, "hours": 15, "minutes": 43, "utc": true}, "type": "temporal"}, "x2": {"datum": {"year": 2024, "month": 6, "date": 18, "hours": 8, "minutes": 38, "utc": true}}, "y": {"datum": 50, "type": "quantitative"}}
        },
        {
          "data": {"values": [{}]},
          "mark": {"type": "rule", "color": "#787B86", "strokeWidth": 1.6, "strokeDash": [7, 6]},
          "encoding": {"x": {"datum": {"year": 2024, "month": 1, "date": 2, "hours": 15, "minutes": 43, "utc": true}, "type": "temporal"}, "x2": {"datum": {"year": 2024, "month": 6, "date": 18, "hours": 8, "minutes": 38, "utc": true}}, "y": {"datum": 30, "type": "quantitative"}}
        },
        {
          "mark": {"type": "line", "color": "#F5E35E", "strokeWidth": 3},
          "encoding": {"x": {"field": "d", "type": "temporal"}, "y": {"field": "ma", "type": "quantitative", "title": null}}
        },
        {
          "mark": {"type": "line", "color": "#7E57C2", "strokeWidth": 2.4},
          "encoding": {
            "x": {
              "field": "d", "type": "temporal", "title": null,
              "scale": {"type": "utc", "nice": false, "domain": [
                {"year": 2024, "month": 1, "date": 2, "hours": 15, "minutes": 43, "utc": true},
                {"year": 2024, "month": 6, "date": 18, "hours": 8, "minutes": 38, "utc": true}]},
              "axis": {"title": null, "labels": false, "grid": true, "values": [
                {"year": 2024, "month": 1, "date": 15, "utc": true}, {"year": 2024, "month": 2, "date": 1, "utc": true},
                {"year": 2024, "month": 2, "date": 12, "utc": true}, {"year": 2024, "month": 3, "date": 1, "utc": true},
                {"year": 2024, "month": 3, "date": 18, "utc": true}, {"year": 2024, "month": 4, "date": 1, "utc": true},
                {"year": 2024, "month": 4, "date": 15, "utc": true}, {"year": 2024, "month": 5, "date": 1, "utc": true},
                {"year": 2024, "month": 5, "date": 13, "utc": true}, {"year": 2024, "month": 6, "date": 1, "utc": true},
                {"year": 2024, "month": 6, "date": 17, "utc": true}]}
            },
            "y": {"field": "rsi", "type": "quantitative", "title": null,
              "scale": {"domain": [22.8, 100.8], "nice": false, "zero": false},
              "axis": {"orient": "right", "title": null, "grid": true, "labelPadding": 19, "labelFlush": 5,
                "labelExpr": "datum.value == 60 ? '' : format(datum.value, '.2f')",
                "values": [40, 60, 80, 100]}}
          }
        },
        {
          "data": {"values": [{}]},
          "mark": {"type": "text", "align": "left", "baseline": "middle", "dx": 17, "fontSize": 21, "color": "#131722"},
          "encoding": {"x": {"datum": {"year": 2024, "month": 1, "date": 2, "hours": 15, "minutes": 43, "utc": true}, "type": "temporal"}, "y": {"datum": 92.2, "type": "quantitative"}, "text": {"value": "RSI (14, close)"}}
        },
        {
          "data": {"values": [{}]},
          "mark": {"type": "text", "align": "left", "baseline": "middle", "dx": 179, "fontSize": 21, "color": "#7E57C2"},
          "encoding": {"x": {"datum": {"year": 2024, "month": 1, "date": 2, "hours": 15, "minutes": 43, "utc": true}, "type": "temporal"}, "y": {"datum": 92.2, "type": "quantitative"}, "text": {"value": "73.88"}}
        },
        {
          "data": {"values": [{}]},
          "mark": {"type": "text", "align": "left", "baseline": "middle", "dx": 252, "fontSize": 21, "color": "#F2DE4A"},
          "encoding": {"x": {"datum": {"year": 2024, "month": 1, "date": 2, "hours": 15, "minutes": 43, "utc": true}, "type": "temporal"}, "y": {"datum": 92.2, "type": "quantitative"}, "text": {"value": "60.96"}}
        },
        {
          "data": {"values": [{}]},
          "mark": {"type": "text", "align": "left", "baseline": "middle", "dx": 327, "fontSize": 21, "color": "#131722", "font": "DejaVu Sans"},
          "encoding": {"x": {"datum": {"year": 2024, "month": 1, "date": 2, "hours": 15, "minutes": 43, "utc": true}, "type": "temporal"}, "y": {"datum": 92.2, "type": "quantitative"}, "text": {"value": "∅  ∅  ∅  ∅"}}
        },
        {
          "data": {"values": [{}]},
          "mark": {"type": "point", "shape": "M2,-14.5H87A3,3,0,0,1,90,-11.5V11.5A3,3,0,0,1,87,14.5H2Z", "size": 4, "filled": true, "fill": "#7E57C2", "strokeWidth": 0, "opacity": 1},
          "encoding": {"x": {"datum": {"year": 2024, "month": 6, "date": 18, "hours": 8, "minutes": 38, "utc": true}, "type": "temporal"}, "y": {"datum": 73.88, "type": "quantitative"}}
        },
        {
          "data": {"values": [{}]},
          "mark": {"type": "text", "align": "left", "baseline": "middle", "dx": 19, "fontSize": 21, "color": "#ffffff"},
          "encoding": {"x": {"datum": {"year": 2024, "month": 6, "date": 18, "hours": 8, "minutes": 38, "utc": true}, "type": "temporal"}, "y": {"datum": 73.88, "type": "quantitative"}, "text": {"value": "73.88"}}
        },
        {
          "data": {"values": [{}]},
          "mark": {"type": "point", "shape": "M2,-14.5H87A3,3,0,0,1,90,-11.5V11.5A3,3,0,0,1,87,14.5H2Z", "size": 4, "filled": true, "fill": "#FFEB3B", "strokeWidth": 0, "opacity": 1},
          "encoding": {"x": {"datum": {"year": 2024, "month": 6, "date": 18, "hours": 8, "minutes": 38, "utc": true}, "type": "temporal"}, "y": {"datum": 60.96, "type": "quantitative"}}
        },
        {
          "data": {"values": [{}]},
          "mark": {"type": "text", "align": "left", "baseline": "middle", "dx": 19, "fontSize": 21, "color": "#131722"},
          "encoding": {"x": {"datum": {"year": 2024, "month": 6, "date": 18, "hours": 8, "minutes": 38, "utc": true}, "type": "temporal"}, "y": {"datum": 60.96, "type": "quantitative"}, "text": {"value": "60.96"}}
        },
        {
          "data": {"values": [{}]},
          "mark": {"type": "rule", "color": "#E0E3EB", "strokeWidth": 1.5},
          "encoding": {"x": {"datum": {"year": 2024, "month": 6, "date": 18, "hours": 8, "minutes": 38, "utc": true}, "type": "temporal"}, "x2": {"datum": {"year": 2024, "month": 7, "date": 2, "hours": 9, "minutes": 36, "utc": true}}, "y": {"datum": 100.8, "type": "quantitative"}}
        },
        {
          "data": {"values": [{}]},
          "mark": {"type": "rule", "color": "#E0E3EB", "strokeWidth": 1.5},
          "encoding": {"x": {"datum": {"year": 2024, "month": 7, "date": 2, "hours": 9, "minutes": 36, "utc": true}, "type": "temporal"}, "y": {"datum": 22.8, "type": "quantitative"}, "y2": {"datum": 100.8}}
        }
      ]
    },
    {
      "width": 2330,
      "height": 289,
      "data": {"name": "bars"},
      "layer": [
        {
          "mark": {"type": "line", "color": "#FF6D00", "strokeWidth": 2},
          "encoding": {"x": {"field": "d", "type": "temporal"}, "y": {"field": "mdi", "type": "quantitative", "title": null}}
        },
        {
          "mark": {"type": "line", "color": "#2962FF", "strokeWidth": 2},
          "encoding": {
            "x": {
              "field": "d", "type": "temporal", "title": null,
              "scale": {"type": "utc", "nice": false, "domain": [
                {"year": 2024, "month": 1, "date": 2, "hours": 15, "minutes": 43, "utc": true},
                {"year": 2024, "month": 6, "date": 18, "hours": 8, "minutes": 38, "utc": true}]},
              "axis": {"title": null, "grid": true, "labelFlush": false, "labelPadding": 10, "labelFontSize": 20,
                "labelExpr": "utcdate(datum.value) == 1 ? utcFormat(datum.value, '%b') : utcFormat(datum.value, '%-d')",
                "labelFontWeight": {"condition": {"test": "utcdate(datum.value) == 1", "value": 600}, "value": 400},
                "values": [
                {"year": 2024, "month": 1, "date": 15, "utc": true}, {"year": 2024, "month": 2, "date": 1, "utc": true},
                {"year": 2024, "month": 2, "date": 12, "utc": true}, {"year": 2024, "month": 3, "date": 1, "utc": true},
                {"year": 2024, "month": 3, "date": 18, "utc": true}, {"year": 2024, "month": 4, "date": 1, "utc": true},
                {"year": 2024, "month": 4, "date": 15, "utc": true}, {"year": 2024, "month": 5, "date": 1, "utc": true},
                {"year": 2024, "month": 5, "date": 13, "utc": true}, {"year": 2024, "month": 6, "date": 1, "utc": true},
                {"year": 2024, "month": 6, "date": 17, "utc": true}]}
            },
            "y": {"field": "pdi", "type": "quantitative", "title": null,
              "scale": {"domain": [-7.5, 72.4], "nice": false, "zero": false},
              "axis": {"orient": "right", "title": null, "grid": true, "format": ".4f", "labelPadding": 19, "values": [0, 20, 40, 60]}}
          }
        },
        {
          "data": {"values": [{}]},
          "mark": {"type": "text", "align": "left", "baseline": "middle", "dx": 17, "fontSize": 21, "color": "#131722"},
          "encoding": {"x": {"datum": {"year": 2024, "month": 1, "date": 2, "hours": 15, "minutes": 43, "utc": true}, "type": "temporal"}, "y": {"datum": 63.55, "type": "quantitative"}, "text": {"value": "DMI (14, 14)"}}
        },
        {
          "data": {"values": [{}]},
          "mark": {"type": "text", "align": "left", "baseline": "middle", "dx": 157, "fontSize": 21, "color": "#2962FF"},
          "encoding": {"x": {"datum": {"year": 2024, "month": 1, "date": 2, "hours": 15, "minutes": 43, "utc": true}, "type": "temporal"}, "y": {"datum": 63.55, "type": "quantitative"}, "text": {"value": "32.6535"}}
        },
        {
          "data": {"values": [{}]},
          "mark": {"type": "text", "align": "left", "baseline": "middle", "dx": 256, "fontSize": 21, "color": "#FF6D00"},
          "encoding": {"x": {"datum": {"year": 2024, "month": 1, "date": 2, "hours": 15, "minutes": 43, "utc": true}, "type": "temporal"}, "y": {"datum": 63.55, "type": "quantitative"}, "text": {"value": "10.5132"}}
        },
        {
          "data": {"values": [{}]},
          "mark": {"type": "point", "shape": "M2,-14.5H113A3,3,0,0,1,116,-11.5V11.5A3,3,0,0,1,113,14.5H2Z", "size": 4, "filled": true, "fill": "#2962FF", "strokeWidth": 0, "opacity": 1},
          "encoding": {"x": {"datum": {"year": 2024, "month": 6, "date": 18, "hours": 8, "minutes": 38, "utc": true}, "type": "temporal"}, "y": {"datum": 32.6535, "type": "quantitative"}}
        },
        {
          "data": {"values": [{}]},
          "mark": {"type": "text", "align": "left", "baseline": "middle", "dx": 19, "fontSize": 21, "color": "#ffffff"},
          "encoding": {"x": {"datum": {"year": 2024, "month": 6, "date": 18, "hours": 8, "minutes": 38, "utc": true}, "type": "temporal"}, "y": {"datum": 32.6535, "type": "quantitative"}, "text": {"value": "32.6535"}}
        },
        {
          "data": {"values": [{}]},
          "mark": {"type": "point", "shape": "M2,-14.5H113A3,3,0,0,1,116,-11.5V11.5A3,3,0,0,1,113,14.5H2Z", "size": 4, "filled": true, "fill": "#FF6D00", "strokeWidth": 0, "opacity": 1},
          "encoding": {"x": {"datum": {"year": 2024, "month": 6, "date": 18, "hours": 8, "minutes": 38, "utc": true}, "type": "temporal"}, "y": {"datum": 10.5132, "type": "quantitative"}}
        },
        {
          "data": {"values": [{}]},
          "mark": {"type": "text", "align": "left", "baseline": "middle", "dx": 19, "fontSize": 21, "color": "#ffffff"},
          "encoding": {"x": {"datum": {"year": 2024, "month": 6, "date": 18, "hours": 8, "minutes": 38, "utc": true}, "type": "temporal"}, "y": {"datum": 10.5132, "type": "quantitative"}, "text": {"value": "10.5132"}}
        },
        {
          "data": {"values": [{}]},
          "mark": {"type": "rule", "color": "#E0E3EB", "strokeWidth": 1.5},
          "encoding": {"x": {"datum": {"year": 2024, "month": 6, "date": 18, "hours": 8, "minutes": 38, "utc": true}, "type": "temporal"}, "x2": {"datum": {"year": 2024, "month": 7, "date": 2, "hours": 9, "minutes": 36, "utc": true}}, "y": {"datum": 72.4, "type": "quantitative"}}
        },
        {
          "data": {"values": [{}]},
          "mark": {"type": "rule", "color": "#E0E3EB", "strokeWidth": 1.5},
          "encoding": {"x": {"datum": {"year": 2024, "month": 7, "date": 2, "hours": 9, "minutes": 36, "utc": true}, "type": "temporal"}, "y": {"datum": -19.94, "type": "quantitative"}, "y2": {"datum": 72.4}}
        },
        {
          "data": {"values": [{}]},
          "mark": {"type": "rule", "color": "#E0E3EB", "strokeWidth": 1.5},
          "encoding": {"x": {"datum": {"year": 2024, "month": 1, "date": 2, "hours": 15, "minutes": 43, "utc": true}, "type": "temporal"}, "x2": {"datum": {"year": 2024, "month": 7, "date": 2, "hours": 9, "minutes": 36, "utc": true}}, "y": {"datum": -19.94, "type": "quantitative"}}
        },
        {
          "data": {"values": [{}]},
          "mark": {"type": "rule", "color": "#E0E3EB", "strokeWidth": 1.5},
          "encoding": {"x": {"datum": {"year": 2024, "month": 1, "date": 2, "hours": 15, "minutes": 43, "utc": true}, "type": "temporal"}, "y": {"datum": -7.5, "type": "quantitative"}, "y2": {"datum": -19.94}}
        },
        {
          "data": {"values": [{}]},
          "mark": {"type": "point", "shape": "M4,-9.5H17V9.5H10V-2H4ZM18,-5.5A3.5,3.5,0,1,0,25,-5.5A3.5,3.5,0,1,0,18,-5.5ZM30,-9.5H39L31,9.5H22Z", "size": 4, "filled": true, "fill": "#131722", "strokeWidth": 0, "opacity": 1},
          "encoding": {"x": {"datum": {"year": 2024, "month": 1, "date": 2, "hours": 15, "minutes": 43, "utc": true}, "type": "temporal"}, "y": {"datum": -29.06, "type": "quantitative"}}
        },
        {
          "data": {"values": [{}]},
          "mark": {"type": "text", "align": "left", "baseline": "middle", "dx": 46, "fontSize": 23, "fontWeight": 500, "color": "#131722"},
          "encoding": {"x": {"datum": {"year": 2024, "month": 1, "date": 2, "hours": 15, "minutes": 43, "utc": true}, "type": "temporal"}, "y": {"datum": -29.06, "type": "quantitative"}, "text": {"value": "TradingView"}}
        }
      ]
    }
  ],
  "spacing": 0,
  "bounds": "flush",
  "config": {
    "font": "Inter",
    "view": {"stroke": "#E0E3EB", "strokeWidth": 1.5},
    "axis": {"labelFont": "Inter", "labelFontSize": 21, "labelColor": "#131722", "gridColor": "#F0F3FA", "gridWidth": 1.6, "domain": false, "ticks": false, "tickSize": 0},
    "text": {"font": "Inter"}
  }
}
